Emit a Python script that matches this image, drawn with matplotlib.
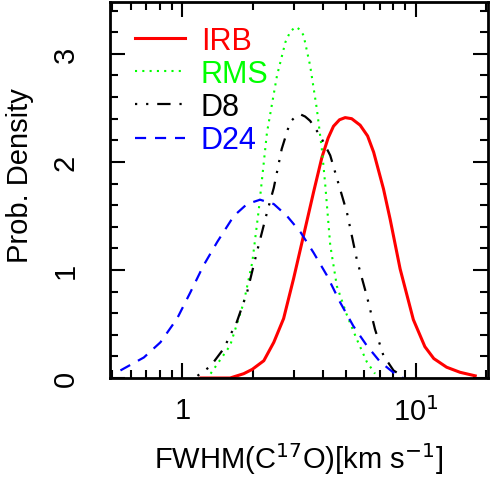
import matplotlib
matplotlib.use("Agg")
import matplotlib.pyplot as plt
from matplotlib.ticker import FixedLocator, LogLocator, NullFormatter, MultipleLocator

plt.rcParams['font.family'] = ['Liberation Sans', 'DejaVu Sans']

# curves (FWHM in km/s, probability density)
irb_x = [1.2, 1.6, 1.83, 1.99, 2.23, 2.46, 2.71, 2.99, 3.30, 3.64, 3.95, 4.2, 4.43, 4.7,
         4.97, 5.3, 5.76, 6.2, 6.58, 7.25, 7.74, 8.54, 9.73, 10.9, 11.9, 13.5, 15.4, 17.9]
irb_y = [0.0, 0.0, 0.04, 0.08, 0.16, 0.33, 0.55, 0.92, 1.32, 1.72, 2.04, 2.22, 2.33, 2.39,
         2.41, 2.40, 2.34, 2.24, 2.09, 1.75, 1.47, 1.01, 0.54, 0.29, 0.18, 0.10, 0.053, 0.02]

rms_x = [1.32, 1.60, 1.83, 1.99, 2.12, 2.30, 2.54, 2.76, 2.9, 3.06, 3.2, 3.30, 3.52, 3.76,
         3.95, 4.08, 4.29, 4.58, 5.06, 5.57, 6.15, 6.67]
rms_y = [0.04, 0.30, 0.70, 1.07, 1.55, 2.27, 2.80, 3.11, 3.21, 3.25, 3.22, 3.17, 2.89, 2.49,
         2.12, 1.80, 1.23, 0.85, 0.58, 0.36, 0.15, 0.04]

d8_x = [1.16, 1.32, 1.50, 1.71, 1.89, 2.08, 2.30, 2.46, 2.66, 2.89, 3.05, 3.20, 3.35, 3.52,
        3.89, 4.29, 4.58, 5.06, 5.57, 6.15, 6.67, 7.24, 8.00, 8.70]
d8_y = [0.02, 0.11, 0.27, 0.52, 0.79, 1.16, 1.53, 1.76, 2.12, 2.37, 2.42, 2.44, 2.42, 2.38,
        2.24, 2.06, 1.85, 1.53, 1.10, 0.76, 0.45, 0.21, 0.07, 0.02]

d24_x = [0.543, 0.684, 0.805, 0.949, 1.08, 1.23, 1.41, 1.66, 1.89, 2.15, 2.46, 2.80,
         3.20, 3.64, 4.15, 4.73, 5.39, 6.15, 7.01, 8.0, 8.8]
d24_y = [0.07, 0.19, 0.33, 0.55, 0.79, 1.04, 1.26, 1.50, 1.61, 1.65, 1.61, 1.50,
         1.35, 1.16, 0.95, 0.70, 0.48, 0.30, 0.15, 0.05, 0.0]

names = ['IRB', 'RMS', 'D8', 'D24']
colors = ['#ff0000', '#00ff00', '#000000', '#0000ff']

fig = plt.figure(figsize=(4.93, 4.81), dpi=100)
ax = fig.add_axes([110/493, 1 - 379/481, 378/493, 376/481])

ax.plot(irb_x, irb_y, color=colors[0], lw=2.2, ls='-', label=names[0])
ax.plot(rms_x, rms_y, color=colors[1], lw=1.5, ls=(0, (1, 2.5)), label=names[1])
ax.plot(d8_x, d8_y, color=colors[2], lw=1.6, ls=(0, (1, 4, 1, 4, 6, 4)), label=names[2])
ax.plot(d24_x, d24_y, color=colors[3], lw=1.6, ls=(0, (5, 4)), label=names[3])

ax.set_xscale('log')
ax.set_xlim(0.49, 20.3)
ax.set_ylim(0, 3.48)

ax.xaxis.set_major_locator(FixedLocator([1, 10]))
ax.set_xticklabels(['1', '10$^1$'])
ax.xaxis.set_minor_locator(LogLocator(base=10, subs=range(2, 10)))
ax.xaxis.set_minor_formatter(NullFormatter())
ax.yaxis.set_major_locator(MultipleLocator(1))
ax.yaxis.set_minor_locator(MultipleLocator(0.2))

ax.tick_params(which='both', direction='in', top=True, right=True, width=1.5,
               labelsize=21)
ax.tick_params(which='major', length=11)
ax.tick_params(which='minor', length=6)
ax.tick_params(axis='x', pad=13)
ax.tick_params(axis='y', pad=22, labelrotation=90)
for t in ax.get_yticklabels():
    t.set_va('center')
for s in ax.spines.values():
    s.set_linewidth(2)

ax.set_xlabel('FWHM(C$^{17}$O)[km s$^{-1}$]', fontsize=21)
ax.set_ylabel('Prob. Density', fontsize=21)
ax.xaxis.set_label_coords(0.5, -0.165)
ax.yaxis.set_label_coords(-0.2, 0.54)

leg = ax.legend(loc='upper left', bbox_to_anchor=(25/378, 0.936), frameon=False,
                fontsize=22, handlelength=1.65, handletextpad=0.5, labelspacing=0.1,
                borderaxespad=0, borderpad=0)
for txt, c in zip(leg.get_texts(), colors):
    txt.set_color(c)

fig.savefig('out.png', dpi=100)
